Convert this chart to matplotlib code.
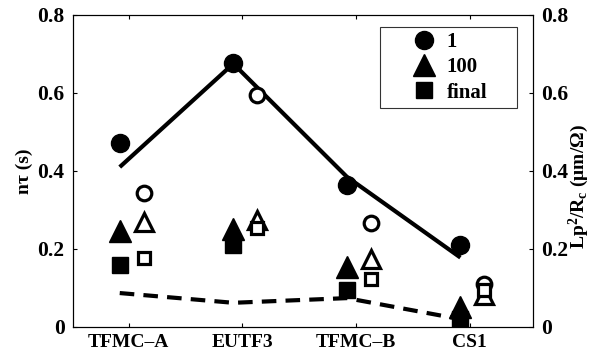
import matplotlib

matplotlib.use("Agg")
import matplotlib.pyplot as plt
from matplotlib.ticker import FuncFormatter

plt.rcParams["font.family"] = ["Liberation Serif", "DejaVu Serif"]
plt.rcParams["font.weight"] = "bold"
plt.rcParams["mathtext.fontset"] = "custom"
plt.rcParams["mathtext.rm"] = "Liberation Serif:bold"
plt.rcParams["mathtext.it"] = "Liberation Serif:bold"
plt.rcParams["mathtext.bf"] = "Liberation Serif:bold"

SITES = ["TFMC\u2013A", "EUTF3", "TFMC\u2013B", "CS1"]
POS = [1, 2, 3, 4]
# left axis: n*tau (s); filled = first sample set, open = second
FILLED_1 = [0.472, 0.677, 0.365, 0.21]
FILLED_100 = [0.245, 0.25, 0.155, 0.05]
FILLED_FINAL = [0.158, 0.21, 0.094, 0.02]
OPEN_1 = [0.344, 0.595, 0.267, 0.11]
OPEN_100 = [0.27, 0.275, 0.175, 0.083]
OPEN_FINAL = [0.177, 0.254, 0.123, 0.095]
# right axis: Lp^2/Rc
LINE_SOLID = [0.41, 0.675, 0.385, 0.178]
LINE_DASHED = [0.087, 0.062, 0.074, 0.02]

DX_FILLED, DX_OPEN = -0.08, 0.13

fig = plt.figure(figsize=(5.97, 3.53), dpi=100)
ax = fig.add_axes([0.122, 0.0737, 0.771, 0.884])
ax2 = ax.twinx()

xf = [p + DX_FILLED for p in POS]
xo = [p + DX_OPEN for p in POS]

ax2.plot(xf, LINE_SOLID, color="black", lw=3, solid_capstyle="butt")
ax2.plot(xf, LINE_DASHED, color="black", lw=3, dashes=(3.5, 2.2))

h1, = ax.plot(xf, FILLED_1, "o", color="black", ms=13, label="1")
h2, = ax.plot(xf, FILLED_100, "^", color="black", ms=16, label="100")
h3, = ax.plot(xf, FILLED_FINAL, "s", color="black", ms=12, label="final")
ax.plot(xo, OPEN_1, "o", mfc="white", mec="black", mew=2.3, ms=10.5)
ax.plot(xo, OPEN_100, "^", mfc="white", mec="black", mew=2.3, ms=13)
ax.plot(xo, OPEN_FINAL, "s", mfc="white", mec="black", mew=2.3, ms=8.5)

ax.set_zorder(ax2.get_zorder() + 1)
ax.patch.set_visible(False)

fmt = FuncFormatter(lambda v, _: "0" if abs(v) < 1e-9 else f"{v:.1f}")
for a in (ax, ax2):
    a.set_ylim(0, 0.8)
    a.set_yticks([0, 0.2, 0.4, 0.6, 0.8])
    a.yaxis.set_major_formatter(fmt)
    a.tick_params(direction="in", length=3, width=0.8, labelsize=15.5, pad=6)
    for s in a.spines.values():
        s.set_linewidth(0.8)
ax.set_xlim(0.507, 4.56)
ax.set_xticks(POS)
ax.set_xticklabels(SITES)
ax.tick_params(axis="x", top=True, pad=5, labelsize=14)
ax.tick_params(axis="y", right=False)

ax.set_ylabel("n\u03c4 (s)", fontsize=14, fontweight="bold", labelpad=3)
ax2.set_ylabel("Lp$^{2}$/R$_{c}$ (\u03bcm/\u03a9)", fontsize=14, fontweight="bold")
ax2.yaxis.set_label_coords(1.072, 0.45)

leg = ax.legend(handles=[h1, h2, h3], loc="upper right",
                bbox_to_anchor=(0.667, 0.5, 0.298, 0.4615), mode="expand",
                fontsize=15, frameon=True, fancybox=False, borderaxespad=0,
                borderpad=0.25, handlelength=3.7, handletextpad=-0.75,
                labelspacing=0.25, markerscale=1.0)
leg.get_frame().set_edgecolor("black")
leg.get_frame().set_linewidth(0.8)

fig.savefig("out.png")
